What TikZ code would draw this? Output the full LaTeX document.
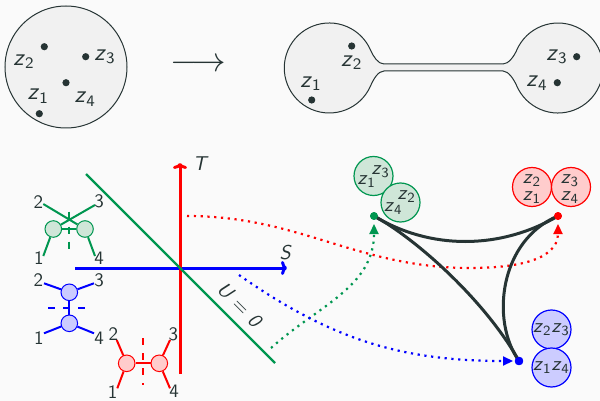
\documentclass[tikz,border=0pt]{standalone}
\usepackage{fontspec}
\usetikzlibrary{arrows.meta}
\definecolor{ink}{RGB}{38,52,52}
\definecolor{bg}{RGB}{250,250,250}
\definecolor{pale}{RGB}{241,241,241}
\definecolor{grn}{RGB}{0,150,80}
\definecolor{grnfill}{RGB}{207,230,216}
\definecolor{redfill}{RGB}{255,204,204}
\definecolor{bluefill}{RGB}{204,204,255}
\newcommand\zz[1]{\textit{z}\textsubscript{#1}}
\begin{document}
\begin{tikzpicture}[x=0.5pt,y=-0.5pt,
  every node/.style={text=ink},
  dotp/.style={circle,fill=ink,inner sep=0,minimum size=3.6pt},
  bigz/.style={font=\sffamily\fontsize{12}{14}\selectfont,inner sep=0},
  blobz/.style={font=\sffamily\fontsize{10}{12}\selectfont,inner sep=0},
  num/.style={font=\sffamily\fontsize{9.5}{11}\selectfont,inner sep=0},
  axlab/.style={font=\sffamily\fontsize{10}{12}\selectfont,inner sep=0},
  smallc/.style={circle,inner sep=0,minimum size=8.3pt,line width=0.5pt},
  leg/.style={line width=1pt},
  cut/.style={line width=1pt,dash pattern=on 3.5pt off 4pt},
  axis/.style={line width=1.5pt,-{To[length=3pt,width=7pt]}},
  dots/.style={line width=1.1pt,dash pattern=on 1.1pt off 2.3pt},
  tip/.style={-{Triangle[length=5pt,width=4.5pt]}},
  blob/.style={circle,inner sep=0,minimum size=19.5pt,line width=0.6pt},
  vdot/.style={circle,inner sep=0,minimum size=3.9pt},
  thick curve/.style={draw=ink,line width=1.5pt}]
\useasboundingbox (0,0) rectangle (600,401);
\fill[bg] (0,0) rectangle (600,401);

% ---------- top: sphere with four points ----------
\node[circle,draw=ink,fill=pale,line width=0.5pt,inner sep=0,minimum size=61pt] (disk) at (66,67) {};
\node[dotp] (d2) at (44.3,46.7) {};
\node[dotp] (d3) at (85.7,56.7) {};
\node[dotp] (d4) at (66,82.7) {};
\node[dotp] (d1) at (39.3,113.7) {};
\node[bigz] (l2) at (24,61.7) {\zz{2}};
\node[bigz] (l3) at (105,56.7) {\zz{3}};
\node[bigz] (l1) at (38.3,96) {\zz{1}};
\node[bigz] (l4) at (85.3,99.3) {\zz{4}};

\node[font=\fontsize{17}{20}\selectfont,inner sep=0] (maparrow) at (198,65) {$\longrightarrow$};

% ---------- dumbbell ----------
\filldraw[fill=pale,draw=ink,line width=0.5pt]
  (384,64) -- (503,64) .. controls (508.5,64) and (514,56.4) .. (516.8,50)
  arc[start angle=203.6,end angle=516.4,radius=45]
  .. controls (514,79.6) and (508.5,71) .. (503,71) -- (384,71)
  .. controls (378,71) and (373.3,79.6) .. (370.5,86)
  arc[start angle=23.6,end angle=336.4,radius=45]
  .. controls (373.3,56.4) and (378,64) .. (384,64) -- cycle;
\node[dotp] (e2) at (351.7,46) {};
\node[dotp] (e1) at (311.7,100) {};
\node[dotp] (e3) at (576.7,56.7) {};
\node[dotp] (e4) at (557.3,82.7) {};
\node[bigz] (m2) at (351.7,62.7) {\zz{2}};
\node[bigz] (m1) at (311,83.7) {\zz{1}};
\node[bigz] (m3) at (557,56.7) {\zz{3}};
\node[bigz] (m4) at (537,83.3) {\zz{4}};

% ---------- axes ----------
\coordinate (sL) at (75,268);
\coordinate (sR) at (287,268);
\coordinate (tB) at (180,374);
\coordinate (tT) at (180,163);
\coordinate (uA) at (86,174);
\coordinate (uB) at (275,363);
\draw[blue,axis] (sL) -- (sR);
\draw[red,axis] (tB) -- (tT);
\draw[grn,line width=1.2pt] (uA) -- (uB);
\node[axlab] (Tlab) at (200.7,163.7) {\textit{T}};
\node[axlab] (Slab) at (285.7,252.3) {\textit{S}};
\node[axlab,rotate=-45] (Ulab) at (240,305) {\textit{U} = \textit{0}};

% ---------- green small diagram ----------
\node[smallc,draw=grn,fill=grnfill] (gL) at (53.3,229) {};
\node[smallc,draw=grn,fill=grnfill] (gR) at (85,229) {};
\coordinate (g2) at (43.3,204);
\coordinate (g3) at (95,205);
\coordinate (g1) at (43.3,256);
\coordinate (g4) at (95,256);
\coordinate (gct) at (69.3,211.7);
\coordinate (gcb) at (69.3,250);
\draw[grn,leg] (g2) -- (gR);
\draw[grn,leg] (g3) -- (gL);
\draw[grn,leg] (g1) -- (gL);
\draw[grn,leg] (g4) -- (gR);
\draw[grn,leg] (gL) -- (gR);
\draw[grn,cut] (gct) -- (gcb);
\node[num] (gn2) at (38.3,201.7) {2};
\node[num] (gn3) at (99,201.7) {3};
\node[num] (gn1) at (39,258) {1};
\node[num] (gn4) at (99,258) {4};

% ---------- blue small diagram ----------
\node[smallc,draw=blue,fill=bluefill] (bT) at (69.3,292.3) {};
\node[smallc,draw=blue,fill=bluefill] (bB) at (69.3,323.3) {};
\coordinate (b2) at (44,283.3);
\coordinate (b3) at (94,283.3);
\coordinate (b1) at (44,333.3);
\coordinate (b4) at (94,333.3);
\coordinate (bcl) at (48.3,308.3);
\coordinate (bcr) at (88.3,308.3);
\draw[blue,leg] (b2) -- (bT);
\draw[blue,leg] (b3) -- (bT);
\draw[blue,leg] (b1) -- (bB);
\draw[blue,leg] (b4) -- (bB);
\draw[blue,leg] (bT) -- (bB);
\draw[blue,cut] (bcl) -- (bcr);
\node[num] (bn2) at (38.3,280) {2};
\node[num] (bn3) at (99,280) {3};
\node[num] (bn1) at (39,338) {1};
\node[num] (bn4) at (99,338) {4};

% ---------- red small diagram ----------
\node[smallc,draw=red,fill=redfill] (rL) at (126.7,363.3) {};
\node[smallc,draw=red,fill=redfill] (rR) at (159.3,363.3) {};
\coordinate (r2) at (116.7,340);
\coordinate (r3) at (170,340);
\coordinate (r1) at (117.3,388.3);
\coordinate (r4) at (170,388.3);
\coordinate (rct) at (142.7,338.3);
\coordinate (rcb) at (142.7,385);
\draw[red,leg] (r2) -- (rL);
\draw[red,leg] (r3) -- (rR);
\draw[red,leg] (r1) -- (rL);
\draw[red,leg] (r4) -- (rR);
\draw[red,leg] (rL) -- (rR);
\draw[red,cut] (rct) -- (rcb);
\node[num] (rn2) at (113.3,334) {2};
\node[num] (rn3) at (173.3,334) {3};
\node[num] (rn1) at (112.7,391.7) {1};
\node[num] (rn4) at (174,391.7) {4};

% ---------- vertices ----------
\node[vdot,fill=grn] (gdot) at (374,216) {};
\node[vdot,fill=red] (rdot) at (558,216) {};
\node[vdot,fill=blue,minimum size=4.2pt] (bdot) at (519,361) {};
\coordinate (gtip) at (374,224);
\coordinate (rtip) at (558,224);
\coordinate (btip) at (513,361);

% ---------- dotted maps ----------
\coordinate (rs) at (187,216);
\coordinate (rmid) at (470,268);
\coordinate (gs) at (271,348);
\coordinate (bs) at (239,275);
\draw[red,dots,tip] (rs) to[out=0,in=180] (rmid) to[out=0,in=-90] (rtip);
\draw[grn,dots,tip] (gs) to[out=42,in=-90] (gtip);
\draw[blue,dots,tip] (bs) to[out=-35,in=180] (btip);

% ---------- thick curves ----------
\draw[thick curve] (gdot.center) .. controls (430,250) and (500,250) .. (rdot.center);
\draw[thick curve] (gdot.center) .. controls (415,238) and (485,300) .. (bdot.center);
\draw[thick curve] (rdot.center) .. controls (500,240) and (490,320) .. (bdot.center);
\node[vdot,fill=grn] (gdot2) at (gdot) {};
\node[vdot,fill=red] (rdot2) at (rdot) {};
\node[vdot,fill=blue,minimum size=4.2pt] (bdot2) at (bdot) {};

% ---------- blobs ----------
\node[blob,draw=grn,fill=grnfill] (gb1) at (373.5,176) {};
\node[blob,draw=grn,fill=grnfill] (gb2) at (400.5,202.5) {};
\node[blobz] (gz3) at (380.7,171.7) {\zz{3}};
\node[blobz] (gz1) at (366.7,181.7) {\zz{1}};
\node[blobz] (gz2) at (406.7,196.7) {\zz{2}};
\node[blobz] (gz4) at (393.3,208.3) {\zz{4}};

\node[blob,draw=red,fill=redfill] (rb1) at (532,187) {};
\node[blob,draw=red,fill=redfill] (rb2) at (571,187) {};
\node[blobz] (rz2) at (532,181) {\zz{2}};
\node[blobz] (rz1) at (532,198) {\zz{1}};
\node[blobz] (rz3) at (570,181) {\zz{3}};
\node[blobz] (rz4) at (570,198) {\zz{4}};

\node[blob,draw=blue,fill=bluefill] (bb1) at (551.5,329.5) {};
\node[blob,draw=blue,fill=bluefill] (bb2) at (551.5,367.5) {};
\node[blobz] (bz23) at (551.5,330) {\zz{2}\zz{3}};
\node[blobz] (bz14) at (551.5,368) {\zz{1}\zz{4}};
\end{tikzpicture}
\end{document}
